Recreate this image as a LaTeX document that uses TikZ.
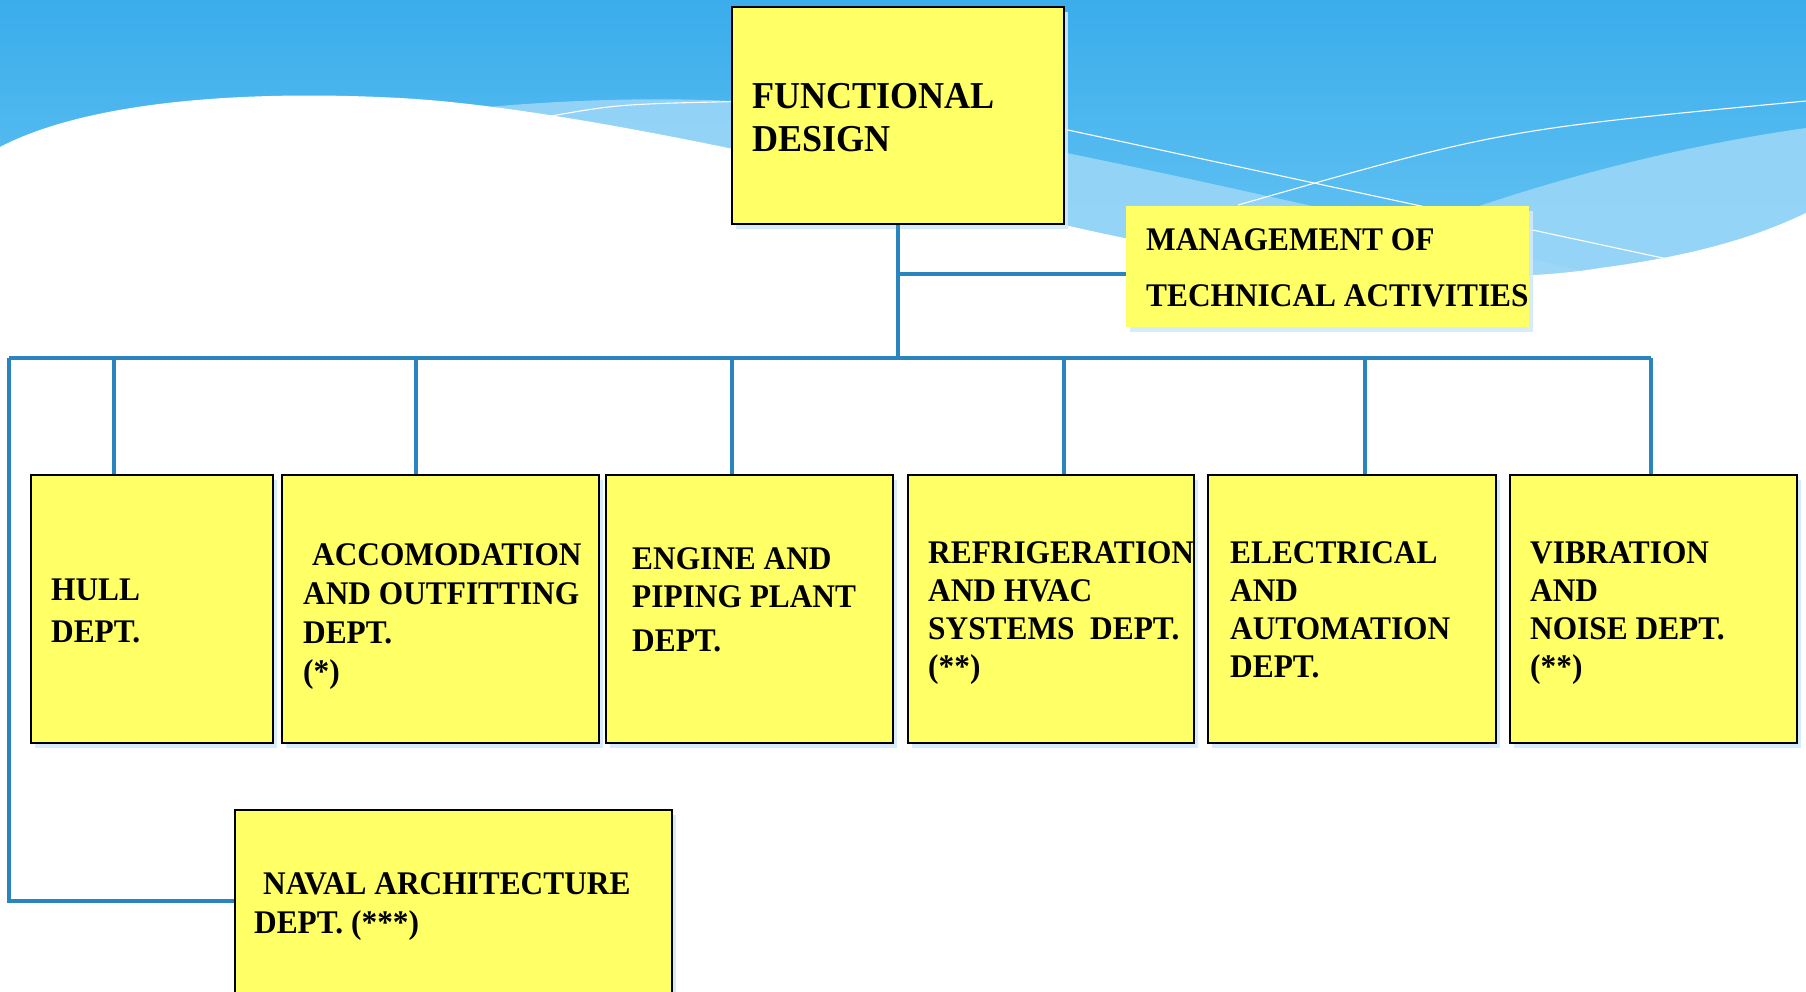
\documentclass[tikz,border=0pt]{standalone}
\usepackage{fontspec}
\setmainfont{Liberation Serif}[FakeStretch=0.95]
\usetikzlibrary{shadows}
\definecolor{skytop}{HTML}{3AADEB}
\definecolor{skybot}{HTML}{6AC6F4}
\definecolor{bandc}{HTML}{9ED8F8}
\definecolor{boxfill}{HTML}{FFFF66}
\definecolor{connc}{HTML}{2A84BE}
\definecolor{glowc}{HTML}{D2EAFB}
\begin{document}
\begin{tikzpicture}[x=1pt,y=-1pt,
  box/.style={draw=black, line width=2pt, fill=boxfill, rectangle, inner sep=0pt,
    drop shadow={shadow xshift=4pt, shadow yshift=-5pt, fill=glowc, opacity=0.9}},
  plainbox/.style={draw=none, fill=boxfill, rectangle, inner sep=0pt,
    drop shadow={shadow xshift=4pt, shadow yshift=-5pt, fill=glowc, opacity=0.9}},
  conn/.style={draw=connc, line width=3.2pt},
  wline/.style={draw=white, line width=1.1pt},
  txt/.style={anchor=base west, align=left, inner sep=0pt},
  deptfont/.style={font=\bfseries\fontsize{33}{38}\selectfont}]
\clip (0,0) rectangle (1806,991);
\fill[white] (0,0) rectangle (1806,991);
% sky
\fill[top color=skytop, bottom color=skybot] (0,0) rectangle (1806,300);
% light bands
\fill[bandc, opacity=0.85] (440,112) .. controls (560,98) and (680,96) .. (780,104)
  .. controls (950,125) and (1150,170) .. (1330,210) -- (1640,285) -- (1640,330) -- (440,330) -- cycle;
\fill[bandc, opacity=0.85] (1806,128) .. controls (1650,150) and (1500,195) .. (1400,235)
  -- (1400,330) -- (1806,330) -- cycle;
% white thin lines
\draw[wline] (551,116) .. controls (620,104) .. (760,101);
\draw[wline] (1040,124) .. controls (1300,180) .. (1672,260);
\draw[wline] (1238,205) .. controls (1500,130) .. (1806,101);
% white ground
\fill[white] (0,147) .. controls (90,100) and (250,90) .. (400,98)
  .. controls (550,106) and (800,160) .. (1065,225)
  .. controls (1300,280) and (1500,285) .. (1600,268)
  .. controls (1700,255) and (1760,235) .. (1806,213)
  -- (1806,991) -- (0,991) -- cycle;
% boxes
\node[box, minimum width=332pt, minimum height=217pt] (fd) at (898,115.5) {};
\node[plainbox, minimum width=403pt, minimum height=121pt] (mgmt) at (1327.5,266.5) {};
\node[box, minimum width=242pt, minimum height=268pt] (hull) at (152,609) {};
\node[box, minimum width=317pt, minimum height=268pt] (accom) at (440.5,609) {};
\node[box, minimum width=287pt, minimum height=268pt] (engine) at (749.5,609) {};
\node[box, minimum width=286pt, minimum height=268pt] (refrig) at (1051,609) {};
\node[box, minimum width=288pt, minimum height=268pt] (elec) at (1352,609) {};
\node[box, minimum width=287pt, minimum height=268pt] (vib) at (1653.5,609) {};
\node[box, minimum width=437pt, minimum height=220pt] (naval) at (453.5,920) {};
% connectors
\coordinate (busL) at (9,358);
\coordinate (busR) at (1651,358);
\coordinate (busC) at (898,358);
\coordinate (jm) at (898,274);
\coordinate (nl) at (9,901);
\draw[conn] (fd.south) -- (busC);
\draw[conn] (jm) -- (jm -| mgmt.west);
\draw[conn] (busL) -- (busR);
\foreach \n/\x in {hull/114, accom/416, engine/732, refrig/1064, elec/1365, vib/1651}{
  \coordinate (d\n) at (\x,358);
  \draw[conn] (d\n) -- (d\n |- \n.north);
}
\draw[conn] (busL) -- (nl) -- (nl -| naval.west);
% texts (anchor = baseline of the last line)
\node[txt, font=\bfseries\fontsize{38}{43}\selectfont] (tfd) at (752,151) {FUNCTIONAL\\DESIGN};
\node[txt, font=\bfseries\fontsize{33}{56}\selectfont] (tmgmt) at (1146,306) {MANAGEMENT OF\\TECHNICAL ACTIVITIES};
\node[txt, font=\bfseries\fontsize{33}{42}\selectfont] (thull) at (51,642) {HULL\\DEPT.};
\node[txt, font=\bfseries\fontsize{33}{38.7}\selectfont] (taccom) at (303,682) {\hspace*{9pt}ACCOMODATION\\AND OUTFITTING\\DEPT.\\(*)};
\node[txt, deptfont] (tengine) at (632,651) {ENGINE AND\\PIPING PLANT\\[6pt]DEPT.};
\node[txt, deptfont] (trefrig) at (928,677) {REFRIGERATION\\AND HVAC\\SYSTEMS\ \ DEPT.\\(**)};
\node[txt, deptfont] (telec) at (1230,677) {ELECTRICAL\\AND\\AUTOMATION\\DEPT.};
\node[txt, deptfont] (tvib) at (1530,677) {VIBRATION\\AND\\NOISE DEPT.\\(**)};
\node[txt, font=\bfseries\fontsize{33}{39}\selectfont] (tnaval) at (254,933) {\hspace*{9pt}NAVAL ARCHITECTURE\\DEPT. (***)};
\end{tikzpicture}
\end{document}
